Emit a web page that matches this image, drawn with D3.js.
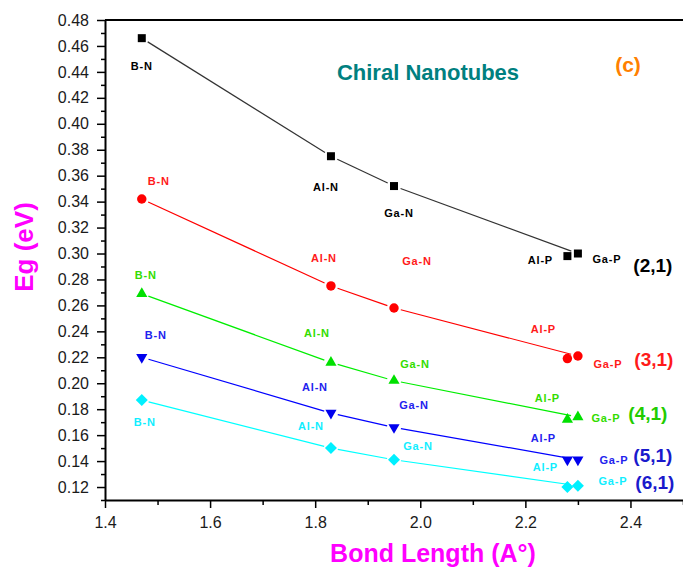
<!DOCTYPE html>
<html>
<head>
<meta charset="utf-8">
<script src="https://cdn.jsdelivr.net/npm/d3@7"></script>
<style>
    body { margin: 0; background: #fff; }
    svg { display: block; font-family: "Liberation Sans", Arial, sans-serif; }
    .axis path, .axis line { stroke: #000; }
</style>
</head>
<body>
<svg id="chart" width="683" height="567"></svg>
<script>

// compounds, in the order the points sit along x
var compounds = ["B-N", "Al-N", "Ga-N", "Al-P", "Ga-P"];
var bondLength = [1.47, 1.83, 1.95, 2.28, 2.30];

// band gap (eV) for each chiral tube
var tubes = ["(2,1)", "(3,1)", "(4,1)", "(5,1)", "(6,1)"];
var eg21 = [0.466, 0.375, 0.352, 0.298, 0.300];
var eg31 = [0.342, 0.275, 0.258, 0.219, 0.221];
var eg41 = [0.269, 0.216, 0.202, 0.172, 0.174];
var eg51 = [0.220, 0.177, 0.166, 0.141, 0.141];
var eg61 = [0.187, 0.150, 0.141, 0.120, 0.121];

// tick values
var xMajor = [1.4, 1.6, 1.8, 2.0, 2.2, 2.4];
var xMinor = [1.5, 1.7, 1.9, 2.1, 2.3, 2.5];
var yMajor = [0.12, 0.14, 0.16, 0.18, 0.20, 0.22, 0.24, 0.26, 0.28, 0.30,
              0.32, 0.34, 0.36, 0.38, 0.40, 0.42, 0.44, 0.46, 0.48];
var yMinor = [0.11, 0.13, 0.15, 0.17, 0.19, 0.21, 0.23, 0.25, 0.27, 0.29,
              0.31, 0.33, 0.35, 0.37, 0.39, 0.41, 0.43, 0.45, 0.47];

// the line visits Ga-P before Al-P (Origin worksheet order)
var lineOrder = [0, 1, 2, 4, 3];

// ---- styling, kept apart from the data ----
var styles = [
    { line: "#333", mark: "#000", text: "#000", tag: "#000", symbol: d3.symbolSquare, size: 64, rot: 0 },
    { line: "#ff0000", mark: "#ff0000", text: "#ff1a1a", tag: "#ff1a1a", symbol: d3.symbolCircle, size: 70, rot: 0 },
    { line: "#00ee00", mark: "#00e000", text: "#33dd00", tag: "#22cc00", symbol: d3.symbolTriangle, size: 54, rot: 0 },
    { line: "#0000ff", mark: "#0000ee", text: "#2222ee", tag: "#1a1acc", symbol: d3.symbolTriangle, size: 54, rot: 180 },
    { line: "#00ffff", mark: "#00f0ff", text: "#11eeff", tag: "#1a1acc", symbol: d3.symbolSquare, size: 72, rot: 45 }
];

// label offsets (px from the marker): [dx, dy]
var labelShift = [
    [[0, 32], [-5, 35], [5, 31], [-27, 8], [29, 9]],
    [[17, -14], [-7, -24], [23, -43], [-24, -26], [30, 12]],
    [[4, -15], [-14, -25], [21, -13], [-20, -18], [28, 5]],
    [[14, -18], [-16, -22], [20, -18], [-24, -18], [36, 4]],
    [[3, 26], [-20, -18], [24, -10], [-22, -16], [35, -1]]
];
var tagShift = [[75, 18], [76, 10], [70, 3], [75, 2], [77, 3]];

var series = [eg21, eg31, eg41, eg51, eg61].map(function(vals, i) {
    return {
        tube: tubes[i],
        points: vals.map(function(v, j) { return { name: compounds[j], x: bondLength[j], y: v }; })
    };
});

var svg = d3.select("#chart");

var plotLeft = 105, plotTop = 20, plotRight = 683, plotBottom = 500;

var x = d3.scaleLinear().domain([1.4, 2.5]).range([plotLeft, plotRight]);
var y = d3.scaleLinear().domain([0.11, 0.48]).range([plotBottom, plotTop]);

// frame top line
svg.append("line")
    .attr("x1", plotLeft).attr("x2", plotRight)
    .attr("y1", plotTop).attr("y2", plotTop)
    .attr("stroke", "#000").attr("stroke-width", 2);

function styleAxis(g) {
    g.attr("font-size", 16)
        .attr("font-family", "'Liberation Sans', Arial, sans-serif");
    g.selectAll("text").attr("fill", "#1a1a1a");
    g.selectAll("line").attr("stroke-width", 1.5);
    g.select(".domain").attr("stroke-width", 2);
}

// minor ticks first
svg.append("g")
    .attr("class", "axis")
    .attr("transform", "translate(" + plotLeft + ",0)")
    .call(d3.axisLeft(y).tickValues(yMinor).tickSize(4).tickSizeOuter(0).tickFormat(""))
    .call(styleAxis)
    .call(function(g) { g.select(".domain").remove(); });

svg.append("g")
    .attr("class", "axis")
    .attr("transform", "translate(0," + plotBottom + ")")
    .call(d3.axisBottom(x).tickValues(xMinor).tickSize(5).tickSizeOuter(0).tickFormat(""))
    .call(styleAxis)
    .call(function(g) { g.select(".domain").remove(); });

svg.append("g")
    .attr("class", "axis")
    .attr("transform", "translate(" + plotLeft + ",0)")
    .call(d3.axisLeft(y).tickValues(yMajor).tickSize(8).tickSizeOuter(0).tickPadding(8)
        .tickFormat(d3.format(".2f")))
    .call(styleAxis);

svg.append("g")
    .attr("class", "axis")
    .attr("transform", "translate(0," + plotBottom + ")")
    .call(d3.axisBottom(x).tickValues(xMajor).tickSize(8).tickSizeOuter(0).tickPadding(9)
        .tickFormat(d3.format(".1f")))
    .call(styleAxis);

// connecting lines, with the little gaps Origin leaves round markers
var gap = 7;
series.forEach(function(s, i) {
    var pts = lineOrder.map(function(k) { return s.points[k]; });
    for (var k = 0; k < pts.length - 1; k++) {
        var x0 = x(pts[k].x), y0 = y(pts[k].y),
            x1 = x(pts[k + 1].x), y1 = y(pts[k + 1].y);
        var len = Math.sqrt((x1 - x0) * (x1 - x0) + (y1 - y0) * (y1 - y0));
        if (len <= 2 * gap) continue;
        var ux = (x1 - x0) / len, uy = (y1 - y0) / len;
        svg.append("line")
            .attr("x1", x0 + ux * gap).attr("y1", y0 + uy * gap)
            .attr("x2", x1 - ux * gap).attr("y2", y1 - uy * gap)
            .attr("stroke", styles[i].line)
            .attr("stroke-width", 1.2);
    }
});

// markers
series.forEach(function(s, i) {
    var st = styles[i];
    svg.append("g").selectAll("path")
        .data(s.points)
        .enter().append("path")
        .attr("d", d3.symbol().type(st.symbol).size(st.size))
        .attr("transform", function(d) {
            return "translate(" + x(d.x) + "," + y(d.y) + ") rotate(" + st.rot + ")";
        })
        .attr("fill", st.mark);
});

// compound labels
series.forEach(function(s, i) {
    var st = styles[i];
    svg.append("g").selectAll("text")
        .data(s.points)
        .enter().append("text")
        .attr("x", function(d, j) { return x(d.x) + labelShift[i][j][0]; })
        .attr("y", function(d, j) { return y(d.y) + labelShift[i][j][1]; })
        .attr("text-anchor", "middle")
        .attr("font-size", "11px")
        .attr("font-weight", "bold")
        .attr("letter-spacing", "0.8px")
        .attr("fill", st.text)
        .text(function(d) { return d.name; });

    var last = s.points[s.points.length - 1];
    svg.append("text")
        .attr("x", x(last.x) + tagShift[i][0])
        .attr("y", y(last.y) + tagShift[i][1])
        .attr("text-anchor", "middle")
        .attr("font-size", "19px")
        .attr("font-weight", "bold")
        .attr("fill", st.tag)
        .text(s.tube);
});

// titles
svg.append("text")
    .attr("x", 428).attr("y", 80)
    .attr("text-anchor", "middle")
    .attr("font-size", "22px").attr("font-weight", "bold")
    .attr("fill", "#008080")
    .text("Chiral Nanotubes");

svg.append("text")
    .attr("x", 628).attr("y", 72)
    .attr("text-anchor", "middle")
    .attr("font-size", "21px").attr("font-weight", "bold")
    .attr("fill", "#ff8000")
    .text("(c)");

svg.append("text")
    .attr("x", 433).attr("y", 562)
    .attr("text-anchor", "middle")
    .attr("font-size", "25px").attr("font-weight", "bold")
    .attr("fill", "#ff00ff")
    .text("Bond Length (A°)");

svg.append("text")
    .attr("transform", "translate(33,247) rotate(-90)")
    .attr("text-anchor", "middle")
    .attr("font-size", "26px").attr("font-weight", "bold")
    .attr("fill", "#ff00ff")
    .text("Eg (eV)");

</script>
</body>
</html>
